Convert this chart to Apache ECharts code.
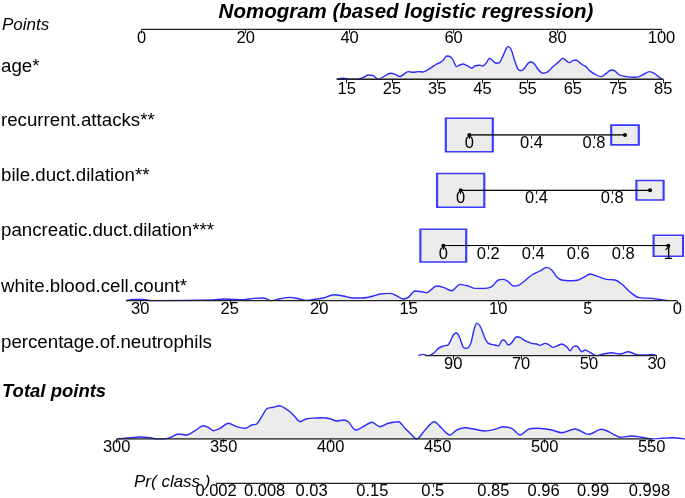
<!DOCTYPE html>
<html><head><meta charset="utf-8">
<script src="https://cdn.jsdelivr.net/npm/echarts@6/dist/echarts.min.js"></script>
<style>html,body{margin:0;padding:0;background:#fff}#c{width:685px;height:498px}</style>
</head><body><div id="c"></div>
<script>
// ---------------- DATA ----------------
const titleText = 'Nomogram (based logistic regression)';
const rowLabels = ['Points','age*','recurrent.attacks**','bile.duct.dilation**','pancreatic.duct.dilation***','white.blood.cell.count*','percentage.of.neutrophils','Total points','Pr( class )'];

const pointsTicks = [0,20,40,60,80,100];

const ageTicks = [15,25,35,45,55,65,75,85];
const ageVal = [12.8,14.25,15.7,17.2,18.7,19.8,20.9,22.0,23.4,24.6,25.7,26.8,27.9,28.6,29.7,30.8,31.9,32.6,33.8,34.9,35.6,36.3,37.1,37.9,38.5,39.3,40.0,40.7,41.8,42.6,43.3,44.4,45.1,45.9,46.6,47.3,48.1,48.8,49.5,50.3,50.8,51.4,52.1,52.9,53.6,54.3,55.1,55.8,56.5,57.3,58.4,59.5,60.6,61.7,62.8,63.5,64.3,65.0,65.7,66.5,67.2,67.9,68.7,70.2,71.3,72.4,73.5,74.2,75.3,76.8,78.6,79.7,80.8,81.9,83.0,84.1,84.8];
const ageDens = [0,1.0,0,0,2,4.3,3.7,0,3.3,6,5,2.7,6,7.7,7,7.7,7.3,8.7,12,15.3,16.7,18.7,23.3,22.7,19.3,12.7,14.3,15.3,13.3,11,13.3,14,13.3,16.7,21,18.7,16,16.7,22.7,31,32.7,29.3,19.3,10,8.7,11,16,17.3,15.3,10,6,7.7,12.7,16.7,21,18.7,16.7,18.7,19.3,16.7,14.3,12.7,8.7,4.3,2.7,6,9.3,8.7,4.3,2.7,2,2.7,5.3,7.7,6,2,0];
const ageRange = [12.8, 85];

const recurrentLevels = [0,1];
const recurrentFreq = [0.744,0.256];
const recurrentTicks = [0,0.4,0.8];

const bileLevels = [0,1];
const bileFreq = [0.75,0.25];
const bileTicks = [0,0.4,0.8];

const pancLevels = [0,1];
const pancFreq = [0.708,0.292];
const pancTicks = [0,0.2,0.4,0.6,0.8,1];

const wbcTicks = [30,25,20,15,10,5,0];
const wbcVal = [30.8,30.39,29.83,29.36,25.92,25.36,24.80,24.25,23.69,23.13,22.66,22.20,21.64,21.17,20.70,20.15,19.77,19.21,18.66,18.10,17.54,16.98,16.61,16.05,15.77,15.31,15.03,14.65,14.28,14.0,13.44,13.07,12.60,12.14,11.68,11.30,10.74,10.37,10.0,9.72,9.44,9.16,8.88,8.51,8.13,7.67,7.30,7.02,6.74,6.46,5.90,5.53,5.16,4.88,4.41,3.94,3.48,3.11,2.55,2.18,1.43,0.87,0.50];
const wbcDens = [0,1.3,1.3,0,0.7,1.7,1.3,1,2.3,2.7,0,2,3.3,2,0.3,1.7,2.7,6,4.7,2.7,2.7,4.7,6.7,7.3,5.7,1.7,3.3,9.7,9,8,14.7,13.3,10,16.3,14.7,12.3,12.3,14,20.7,21.3,19,14.7,15.3,20,25.7,29.7,33.3,30.7,24,20.7,20,20.7,24,26.7,24,21.3,20.7,16.7,7.3,3.3,2.3,1,0];
const wbcRange = [30.8, 0];

const neutTicks = [90,70,50,30];
const neutVal = [100.3,98.85,97.37,95.9,94.42,92.95,91.47,90.0,89.2,88.23,87.05,86.05,84.87,83.9,83.1,82.12,80.65,79.67,77.7,76.73,75.72,75.04,73.78,72.77,71.3,70.32,68.85,66.87,65.4,64.42,62.95,61.98,60.5,58.02,56.55,55.58,54.6,53.6,52.12,51.15,49.67,47.7,45.75,43.27,40.83,38.38,36.9,35.43,32.95,31.47,30.0];
const neutDens = [0,1.3,0,2.3,7.3,9.7,11,20.7,23,19,8.3,7.3,12.3,25.7,32.3,29.7,17.3,12.3,10.7,9.7,15,15.7,10.7,13,19,18.3,15,12.3,11.7,10.3,12.3,11.3,8.3,11.7,9,5,9,9.7,4,5.7,3.3,0,1.7,3,1.7,4,2.3,0.7,0.7,1.3,0];
const neutRange = [98.3, 30];

const totalTicks = [300,350,400,450,500,550];
const totalVal = [300.0,304.7,310.9,316.4,318.7,321.8,324.9,328.8,332.7,336.6,340.5,342.8,345.1,348.3,352.2,356.1,360.0,363.1,365.4,367.8,370.1,373.2,376.0,377.9,381.0,383.3,385.7,388.8,393.5,396.5,399.7,402.8,405.9,408.2,411.7,415.2,419.2,423.0,426.9,431.6,434.7,437.9,440.2,444.1,448.4,451.9,455.7,458.9,462.8,467.4,472.1,476.8,480.7,484.6,488.5,492.3,497.0,503.3,507.9,514.2,520.4,526.6,531.3,535.2,540.7,545.3,550.0,554.7,559.3,565.5];
const totalDens = [0,1,2,1,0,0,1.3,5,4,8.3,13.3,11.7,8.3,10.7,15.7,12.3,10.7,14,15,22.3,30.3,31.7,33.3,31.7,27.3,22.3,17.3,20.3,21,21.3,20.3,18,19,17.3,9,12.3,16.7,12.3,15.7,17.3,10.7,4,0,9,17.3,10.7,4,9,11.3,9.7,8,9.7,12.3,10.7,4,9.7,10.7,9,6.3,10,4.7,9.7,5.7,1.7,3,1.7,0,0.7,1.3,0];
const totalRange = [300, 550];

const prTicks = [0.002,0.008,0.03,0.15,0.5,0.85,0.96,0.99,0.998];
const prLabels = ['0.002','0.008','0.03','0.15','0.5','0.85','0.96','0.99','0.998'];
const prIntercept = 447.7;   // total points where logit = 0
const prSlope = 16.3;        // total points per logit unit

// ---------------- LAYOUT ----------------
const W = 685, H = 45;
const FONT = '"Liberation Sans", Arial, Helvetica, sans-serif';
const BLUE = '#2b2bff', FILL = '#ececec', AXC = '#222';
const layout = [
  {xa:141.7,va:0,  xb:661.5,vb:100,base:29.3, margin:1},
  {xa:346.7,va:15, xb:663.3,vb:85, base:79.3, margin:2},
  {xa:469.3,va:0,  xb:625,  vb:1,  base:135,  margin:0},
  {xa:460.7,va:0,  xb:650,  vb:1,  base:190.3,margin:0},
  {xa:443.3,va:0,  xb:668.3,vb:1,  base:245.7,margin:0},
  {xa:140.3,va:30, xb:677.3,vb:0,  base:300.7,margin:0},
  {xa:453.3,va:90, xb:656.7,vb:30, base:355.7,margin:0},
  {xa:116.7,va:300,xb:651.7,vb:550,base:439,  margin:0},
  {xa:116.7,va:300,xb:651.7,vb:550,base:483.3,margin:0}
];
const logit = p => Math.log(p/(1-p));
const prPos = prTicks.map(p => prIntercept + prSlope*logit(p));
const tickSets = [pointsTicks, ageTicks, recurrentTicks, bileTicks, pancTicks, wbcTicks, neutTicks, totalTicks, prPos];

const grids = [], xAxes = [], yAxes = [], series = [];
layout.forEach((r, i) => {
  const s = (r.vb - r.va)/(r.xb - r.xa);
  const v0 = r.va - r.xa*s, v1 = r.va + (W - r.xa)*s;
  grids.push({left:0, right:0, top:r.base - H, height:H, outerBoundsMode:'none', containLabel:false});
  xAxes.push({
    gridIndex:i, type:'value', min: Math.min(v0,v1), max: Math.max(v0,v1), inverse: s < 0, z:10,
    axisLine:{show:false}, splitLine:{show:false},
    axisTick:{show:true, customValues:tickSets[i], length:4, inside:false, lineStyle:{color:AXC, width:1}},
    axisLabel:{show:true, customValues:tickSets[i], margin:r.margin, fontSize:16.5, color:'#000', fontFamily:FONT,
      formatter: i === 8 ? (v => { let k = 0, d = 1e9; prPos.forEach((p,j)=>{ if (Math.abs(p-v) < d) { d = Math.abs(p-v); k = j; } }); return prLabels[k]; }) : (v => String(+v.toFixed(3)))}
  });
  yAxes.push({gridIndex:i, type:'value', min:0, max:H, show:false});
});

function density(i, xs, ds) {
  series.push({type:'line', xAxisIndex:i, yAxisIndex:i, data: xs.map((x,k)=>[x, ds[k]]),
    smooth:0.3, symbol:'none', lineStyle:{color:BLUE, width:1.4}, areaStyle:{color:FILL, opacity:1, origin:'start'}, z:2, silent:true});
}
function baseline(i, range, w) {
  series.push({type:'line', xAxisIndex:i, yAxisIndex:i, data:[[range[0],0],[range[1],0]],
    symbol:'none', lineStyle:{color:AXC, width:w||1.5}, z:4, silent:true});
}
function categorical(i, levels, freq) {
  series.push({type:'scatter', xAxisIndex:i, yAxisIndex:i, data: levels.map(l=>[l,0]),
    symbol:'rect', symbolSize:(v, p) => [54.5*Math.sqrt(freq[p.dataIndex]), 39*Math.sqrt(freq[p.dataIndex])],
    itemStyle:{color:FILL, borderColor:'#3a3aff', borderWidth:1.8, opacity:1}, z:2, silent:true});
  series.push({type:'line', xAxisIndex:i, yAxisIndex:i, data:[[levels[0],0],[levels[levels.length-1],0]],
    symbol:'circle', symbolSize:4, showAllSymbol:true, itemStyle:{color:'#000'}, lineStyle:{color:'#000', width:1.3}, z:4, silent:true});
}

baseline(0, [0,100], 1.2);
density(1, ageVal, ageDens); baseline(1, ageRange);
categorical(2, recurrentLevels, recurrentFreq);
categorical(3, bileLevels, bileFreq);
categorical(4, pancLevels, pancFreq);
density(5, wbcVal, wbcDens); baseline(5, wbcRange);
density(6, neutVal, neutDens); baseline(6, neutRange);
density(7, totalVal, totalDens); baseline(7, totalRange);
baseline(8, [prPos[0], prPos[prPos.length-1]], 1.2);

const labelPos = [
  {x:2, y:25,  size:17, style:'italic', weight:'normal'},
  {x:1, y:66.5,size:18.7},
  {x:1, y:120.5,size:18.7},
  {x:1, y:175.5,size:18.7},
  {x:1, y:231, size:18.7},
  {x:1, y:286.5,size:18.7},
  {x:1, y:343, size:18.7},
  {x:2, y:392, size:18.5, style:'italic', weight:'bold'},
  {x:134,y:482.5,size:17, style:'italic', weight:'normal'}
];
const graphics = rowLabels.map((t, i) => {
  const p = labelPos[i];
  return {type:'text', x:p.x, y:p.y, silent:true, z:20, style:{text:t, fill:'#000', fontSize:p.size, fontFamily:FONT,
    fontStyle:p.style||'normal', fontWeight:p.weight||'normal', align:'left', verticalAlign:'middle', textAlign:'left', textVerticalAlign:'middle'}};
});
graphics.push({type:'text', x:406, y:12.5, silent:true, z:20, style:{text:titleText, fill:'#000', fontSize:20.5, fontFamily:FONT,
  fontStyle:'italic', fontWeight:'bold', align:'center', verticalAlign:'middle', textAlign:'center', textVerticalAlign:'middle'}});

const chart = echarts.init(document.getElementById('c'), null, {renderer:'canvas'});
chart.setOption({animation:false, backgroundColor:'#fff', grid:grids, xAxis:xAxes, yAxis:yAxes, series:series, graphic:graphics});
</script></body></html>
